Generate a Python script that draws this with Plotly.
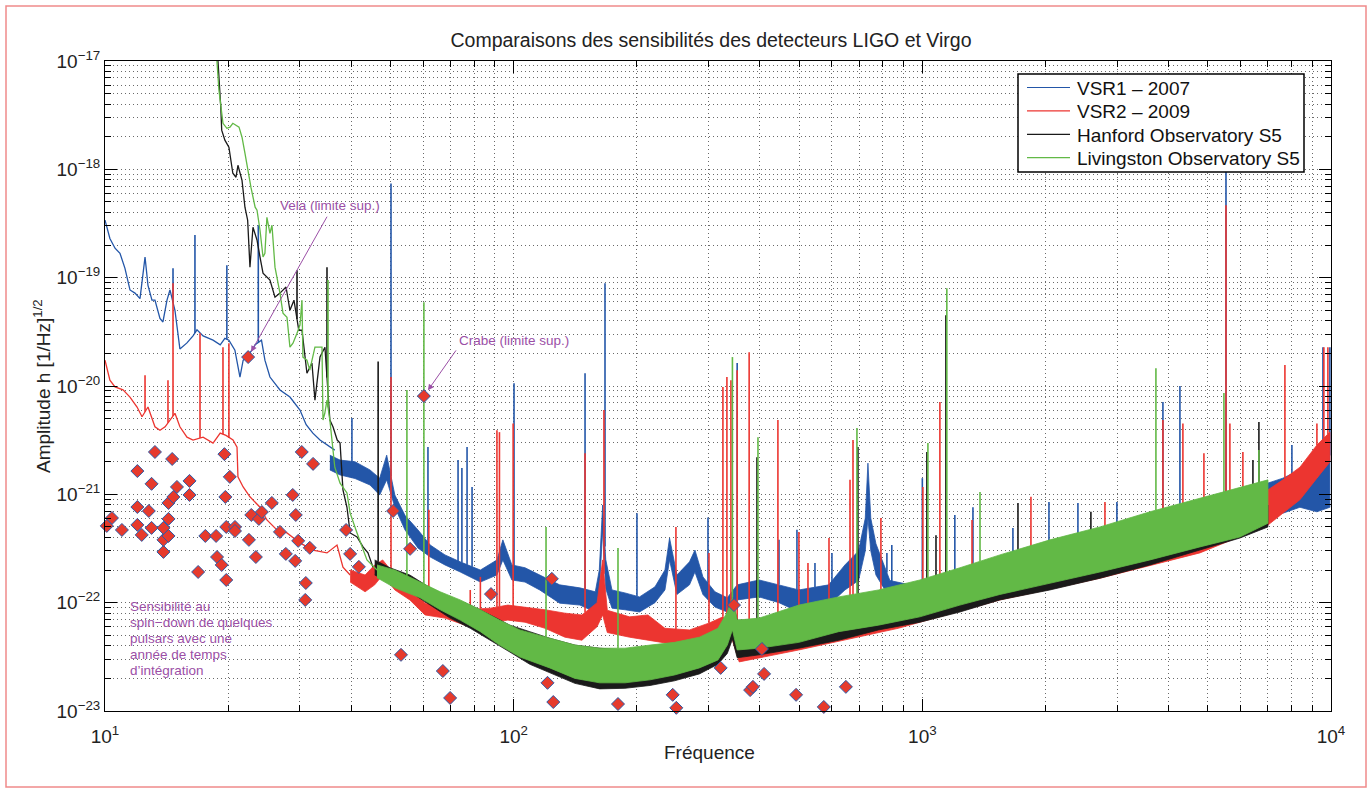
import numpy as np
import plotly.graph_objects as go

# ---------------- data ----------------
# VSR1 - 2007 (blue)
VSR1_LINE_F = [10.0, 10.28, 10.58, 10.88, 11.19, 11.51, 11.84, 12.18, 12.53, 12.74, 13.03, 13.25, 13.63, 13.86, 14.18,
               14.42, 14.83, 15.25, 15.87, 16.42, 16.79, 17.38, 18.38, 19.14, 19.65, 20.10, 20.79, 21.39, 21.78, 22.34,
               22.88, 23.30, 24.15, 24.62, 25.33, 26.80, 28.35, 30.0, 31.06, 32.26, 33.58, 35.5, 36.5]
VSR1_LINE_H = [3.4e-19, 2.3e-19, 1.87e-19, 1.68e-19, 1.22e-19, 7.7e-20, 7.2e-20, 6.4e-20, 1.55e-19, 8.5e-20, 6.2e-20,
               6.2e-20, 4.2e-20, 3.9e-20, 6.2e-20, 7.7e-20, 5.0e-20, 2.2e-20, 2.5e-20, 2.9e-20, 3.3e-20, 2.9e-20,
               2.65e-20, 2.4e-20, 2.75e-20, 2.65e-20, 2.14e-20, 1.21e-20, 1.73e-20, 1.9e-20, 2.14e-20, 2.4e-20,
               2.65e-20, 1.73e-20, 1.21e-20, 9.2e-21, 7.9e-21, 6.0e-21, 4.4e-21, 3.67e-21, 3.17e-21, 2.73e-21, 2.56e-21]
VSR1_BAND_F = [35.5, 37.6, 40.9, 44.5, 47.0, 48.9, 51.2, 54.2, 58.3, 62.5, 67.9, 74.0, 82.9, 91.0, 94.1, 99.0, 106.6,
               115.8, 129.6, 145.2, 158.4, 162.0, 165.1, 168.0, 174.0, 187.2, 203.2, 221.7, 234.5, 240.7, 250.9, 269.3,
               277.7, 290.5, 310.9, 333.3, 352.3, 398.6, 445.9, 498.7, 590.0, 646.6, 698.0, 725.0, 736.0, 748.0, 770.0,
               833.0, 986.0, 1548, 2720, 4777, 7010, 7625, 8393, 9237, 9938]
VSR1_BAND_HI = [2.3e-21, 2.07e-21, 2.0e-21, 1.68e-21, 1.41e-21, 2.3e-21, 9.85e-22, 6.4e-22, 4.7e-22, 3.4e-22, 2.76e-22,
                2.38e-22, 2.0e-22, 2.48e-22, 3.8e-22, 2.23e-22, 2.1e-22, 1.8e-22, 1.46e-22, 1.37e-22, 1.26e-22, 2.0e-22,
                7.97e-22, 2.5e-22, 1.31e-22, 1.23e-22, 1.13e-22, 1.4e-22, 2.0e-22, 3.95e-22, 1.8e-22, 2.38e-22, 3.06e-22,
                1.73e-22, 1.26e-22, 1.11e-22, 1.46e-22, 1.62e-22, 1.46e-22, 1.31e-22, 1.46e-22, 2.23e-22, 3.0e-22,
                6.0e-22, 1.94e-21, 6.0e-22, 3.5e-22, 1.6e-22, 1.4e-22, 2.3e-22, 4.2e-22, 7.5e-22, 1.27e-21, 1.41e-21,
                1.68e-21, 1.41e-21, 2.3e-21]
VSR1_BAND_LO = [1.68e-21, 1.51e-21, 1.4e-21, 1.22e-21, 9.85e-22, 1.36e-21, 7.6e-22, 4.7e-22, 3.2e-22, 2.64e-22, 2.23e-22,
                1.92e-22, 1.55e-22, 1.8e-22, 2.48e-22, 1.62e-22, 1.55e-22, 1.31e-22, 9.9e-23, 9.5e-23, 8.2e-23, 1.25e-22,
                4.7e-22, 1.35e-22, 8.9e-23, 8.6e-23, 8.2e-23, 1.0e-22, 1.31e-22, 2.48e-22, 1.19e-22, 1.46e-22, 1.92e-22,
                1.19e-22, 9.1e-23, 8.2e-23, 1.06e-22, 1.13e-22, 1.0e-22, 8.2e-23, 9.5e-23, 1.31e-22, 1.6e-22, 3.0e-22,
                6.0e-22, 3.0e-22, 1.8e-22, 1.1e-22, 1.0e-22, 1.2e-22, 2.0e-22, 3.4e-22, 8.9e-22, 6.7e-22, 7.6e-22,
                6.9e-22, 7.6e-22]
VSR1_SPIKE_F = [14.67, 16.60, 19.87, 23.72, 40.2, 50.1, 61.7, 73.1, 74.7, 76.9, 79.1, 100.2, 149.5, 167.3, 200.3, 298.9,
                352.3, 445.9, 493.4, 546.1, 600.9, 819, 842, 1000, 1201, 1330, 1666, 2041, 2403, 2993, 3879, 4269,
                5534, 8023, 9556, 9938]
VSR1_SPIKE_H = [1.22e-19, 2.47e-19, 1.3e-19, 3.05e-19, 5.06e-21, 7.4e-19, 2.73e-21, 2.07e-21, 1.75e-21, 2.73e-21,
                1.17e-21, 1.06e-20, 1.31e-20, 8.9e-20, 6.7e-22, 6.1e-22, 1.63e-20, 3.8e-22, 4.7e-22, 2.32e-22, 2.88e-22,
                2.88e-22, 3.4e-22, 1.41e-21, 6.45e-22, 7.6e-22, 4.9e-22, 8.5e-22, 8.3e-22, 8.5e-22, 7.1e-21, 1.0e-20,
                1.09e-18, 2.85e-21, 2.28e-20, 2.28e-20]

# VSR2 - 2009 (red)
VSR2_LINE_F = [10.0, 10.28, 10.58, 11.07, 11.51, 11.98, 12.32, 12.74, 13.25, 13.63, 14.03, 14.42, 14.83, 15.25, 15.87,
               16.42, 17.38, 18.38, 19.14, 19.77, 20.57, 21.04, 21.15, 21.78, 22.63, 23.95, 24.9, 26.35, 27.88, 30.0,
               32.26, 34.93, 36.96, 38.22, 39.8]
VSR2_LINE_H = [1.73e-20, 1.13e-20, 9.8e-21, 9.2e-21, 7.9e-21, 6.4e-21, 5.2e-21, 6.4e-21, 4.2e-21, 3.9e-21, 4.2e-21,
               4.85e-21, 5.6e-21, 4.2e-21, 3.37e-21, 3.17e-21, 3.37e-21, 2.97e-21, 3.67e-21, 3.5e-21, 3.17e-21, 2.73e-21,
               1.45e-21, 1.17e-21, 9.5e-22, 7.6e-22, 5.8e-22, 4.7e-22, 4.4e-22, 3.56e-22, 3.06e-22, 2.88e-22, 3.4e-22,
               2.13e-22, 1.8e-22]
VSR2_BAND_F = [39.8, 43.3, 45.7, 47.8, 51.2, 55.7, 60.7, 67.9, 76.0, 87.7, 96.8, 106.6, 119.3, 133.5, 146.9, 160.0,
               165.1, 169.5, 192.1, 213.1, 234.5, 269.3, 301.2, 325.1, 343.0, 356.3, 498.7, 873.0, 1548, 2720, 4777,
               7010, 7625, 8393, 9237, 9938]
VSR2_BAND_HI = [2.0e-22, 1.8e-22, 2.23e-22, 2.48e-22, 1.8e-22, 1.37e-22, 9.9e-23, 9.5e-23, 8.6e-23, 8.9e-23, 9.5e-23,
                9.1e-23, 8.6e-23, 8.0e-23, 7.7e-23, 1.0e-22, 2.48e-22, 8.5e-23, 7.4e-23, 7.7e-23, 5.8e-23, 5.6e-23,
                6.5e-23, 7.4e-23, 6.2e-23, 5.6e-23, 6.9e-23, 1.06e-22, 1.62e-22, 2.58e-22, 4.2e-22, 1.1e-21, 1.36e-21,
                1.78e-21, 2.85e-21, 3.76e-21]
VSR2_BAND_LO = [1.55e-22, 1.26e-22, 1.46e-22, 1.8e-22, 1.31e-22, 1.06e-22, 7.7e-23, 7.2e-23, 6.2e-23, 6.5e-23, 6.9e-23,
                6.6e-23, 5.8e-23, 4.8e-23, 4.5e-23, 6.0e-23, 7.7e-23, 5.3e-23, 4.8e-23, 4.5e-23, 4.25e-23, 4.06e-23,
                4.5e-23, 5.4e-23, 4.5e-23, 2.84e-23, 3.66e-23, 5.8e-23, 1.06e-22, 1.68e-22, 2.88e-22, 5.2e-22, 6.7e-22,
                8.9e-22, 1.41e-21, 1.99e-21]
VSR2_SPIKE_F = [12.53, 14.26, 14.67, 17.08, 19.44, 20.10, 50.1, 62.0, 78.3, 82.9, 91.0, 92.3, 99.7, 149.5, 166.3,
                249.5, 300.6, 325.1, 332.5, 340.1, 352.3, 376.9, 443.2, 498.9, 525, 591, 665.3, 676.6, 791.9, 1003,
                1104, 1323, 1844, 2798, 3879, 4341, 4887, 5534, 5657, 6087, 7713, 9237, 9607, 9827]
VSR2_SPIKE_H = [1.26e-20, 1.13e-20, 8.9e-20, 3.07e-20, 2.28e-20, 2.48e-20, 1.21e-20, 7.2e-22, 1.31e-22, 1.73e-22,
                3.9e-21, 3.75e-21, 4.5e-21, 2.4e-21, 6.0e-21, 5.0e-22, 2.88e-22, 9.8e-21, 1.21e-20, 1.13e-20, 1.4e-20,
                2.05e-20, 4.85e-21, 4.5e-22, 2.32e-22, 3.95e-22, 1.36e-21, 3.17e-21, 6.05e-22, 1.17e-21, 7.1e-21,
                5.8e-22, 9.5e-22, 8.5e-22, 4.85e-21, 4.5e-21, 2.4e-21, 4.66e-19, 4.5e-21, 2.46e-21, 1.56e-20, 4.5e-21,
                2.28e-20, 2.28e-20]

# Hanford Observatory S5 (black)
H1_LINE_F = [18.9, 19.0, 19.2, 19.3, 19.65, 20.1, 20.55, 20.92, 21.15, 21.64, 22.0, 22.34, 22.63, 23.02, 23.55, 23.95,
             24.36, 25.33, 26.06, 26.8, 27.73, 28.35, 29.0, 29.8, 30.34, 31.2, 32.09, 32.64, 33.58, 34.53, 35.5, 36.13,
             37.0, 37.6, 38.22, 39.09, 39.8, 41.37, 42.8, 44.0, 45.25]
H1_LINE_H = [1.0e-17, 7.7e-18, 3.74e-18, 2.3e-18, 1.86e-18, 1.6e-18, 9.2e-19, 8.45e-19, 1.09e-18, 7.9e-19, 4.47e-19,
             3.39e-19, 1.25e-19, 2.92e-19, 2.22e-19, 1.55e-19, 1.1e-19, 9.5e-20, 6.6e-20, 7.2e-20, 8.2e-20, 5.0e-20,
             6.2e-20, 3.27e-20, 3.27e-20, 1.31e-20, 1.63e-20, 7.4e-21, 1.85e-20, 2.28e-20, 4.85e-21, 4.2e-21, 3.17e-21,
             2.97e-21, 1.1e-21, 7.6e-22, 4.4e-22, 4.04e-22, 3.27e-22, 2.88e-22, 2.13e-22]
H1_BAND_F = [45.7, 49.8, 55.7, 62.5, 69.9, 78.3, 87.7, 97.9, 109.5, 122.5, 141.2, 162.4, 187.2, 215.6, 247.5, 284.8,
             316.2, 333.3, 343.0, 352.3, 398.6, 498.7, 624.0, 780.7, 986.0, 1236, 1548, 2052, 2720, 3605, 4777, 5986,
             7010]
H1_BAND_HI = [2.48e-22, 2.1e-22, 1.8e-22, 1.37e-22, 1.11e-22, 9.5e-23, 7.7e-23, 6.2e-23, 5.4e-23, 4.7e-23, 4.06e-23,
              3.8e-23, 3.66e-23, 3.8e-23, 4.06e-23, 4.5e-23, 5.25e-23, 7.4e-23, 1.06e-22, 6.9e-23, 6.9e-23, 8.2e-23,
              9.9e-23, 1.13e-22, 1.31e-22, 1.62e-22, 1.92e-22, 2.48e-22, 3.2e-22, 4.04e-22, 5.2e-22, 6.4e-22, 7.97e-22]
H1_BAND_LO = [1.8e-22, 1.55e-22, 1.26e-22, 9.5e-23, 7.2e-23, 5.8e-23, 4.5e-23, 3.5e-23, 2.7e-23, 2.25e-23, 1.8e-23,
              1.6e-23, 1.62e-23, 1.72e-23, 1.9e-23, 2.2e-23, 2.7e-23, 3.4e-23, 4.6e-23, 3.1e-23, 3.3e-23, 3.8e-23,
              4.5e-23, 5.6e-23, 6.6e-23, 8.2e-23, 1.06e-22, 1.31e-22, 1.68e-22, 2.23e-22, 3.06e-22, 3.95e-22, 5.0e-22]
H1_SPIKE_F = [29.5, 34.93, 46.6, 393.9, 695.8, 1026, 1080, 1142, 1714, 2585, 6441, 6662]
H1_SPIKE_H = [1.17e-19, 1.25e-19, 1.68e-20, 2.2e-21, 2.73e-21, 2.46e-21, 4.2e-22, 4.5e-20, 8.3e-22, 6.9e-22, 2.07e-21,
              4.65e-21]

# Livingston Observatory S5 (green)
L1_LINE_F = [18.79, 19.0, 19.44, 19.87, 20.22, 20.55, 21.28, 21.64, 22.0, 22.34, 22.76, 23.3, 23.55, 23.95, 24.36,
             24.62, 24.9, 25.33, 25.62, 26.06, 26.8, 27.26, 27.88, 28.35, 28.84, 29.5, 30.0, 30.34, 30.5, 31.2, 31.7,
             32.64, 33.58, 33.96, 34.15, 34.5, 34.93, 35.5, 36.5, 37.6, 39.09, 39.8, 41.37, 43.75, 46.3]
L1_LINE_H = [1.0e-17, 5.4e-18, 2.66e-18, 2.39e-18, 2.45e-18, 2.66e-18, 2.45e-18, 1.98e-18, 1.41e-18, 9.8e-19, 6.8e-19,
             4.47e-19, 4.2e-19, 2.74e-19, 1.55e-19, 1.68e-19, 3.6e-19, 2.57e-19, 3.05e-19, 1.25e-19, 7.2e-20, 4.7e-20,
             4.3e-20, 2.28e-20, 2.48e-20, 3.07e-20, 3.65e-20, 6.2e-20, 1.85e-20, 1.73e-20, 1.4e-20, 2.28e-20, 2.28e-20,
             2.28e-20, 4.85e-21, 5.6e-21, 7.4e-21, 4.85e-21, 1.78e-21, 1.27e-21, 1.03e-21, 6.7e-22, 4.4e-22, 2.48e-22,
             2.0e-22]
L1_BAND_F = [46.3, 51.2, 59.0, 66.1, 74.0, 82.9, 92.3, 103.6, 122.5, 141.2, 162.4, 187.2, 215.6, 247.5, 284.8, 316.2,
             333.3, 343.0, 352.3, 398.6, 498.7, 624.0, 780.7, 986.0, 1236, 1548, 2052, 2720, 3605, 4777, 5986, 7010]
L1_BAND_HI = [2.23e-22, 2.0e-22, 1.55e-22, 1.26e-22, 1.06e-22, 8.6e-23, 6.9e-23, 5.6e-23, 4.7e-23, 4.06e-23, 3.8e-23,
              3.8e-23, 4.06e-23, 4.3e-23, 4.8e-23, 5.8e-23, 8.2e-23, 1.11e-22, 6.9e-23, 7.2e-23, 9.5e-23, 1.13e-22,
              1.31e-22, 1.62e-22, 2.1e-22, 2.76e-22, 3.8e-22, 5.0e-22, 6.9e-22, 9.2e-22, 1.14e-21, 1.36e-21]
L1_BAND_LO = [1.7e-22, 1.37e-22, 1.11e-22, 8.6e-23, 6.9e-23, 5.4e-23, 4.06e-23, 3.15e-23, 2.5e-23, 2.0e-23, 1.82e-23,
              1.82e-23, 1.94e-23, 2.15e-23, 2.5e-23, 2.96e-23, 4.06e-23, 5.6e-23, 3.66e-23, 3.8e-23, 4.3e-23, 5.4e-23,
              6.2e-23, 7.4e-23, 9.5e-23, 1.19e-22, 1.52e-22, 1.92e-22, 2.48e-22, 3.27e-22, 4.04e-22, 5.4e-22]
L1_SPIKE_F = [35.13, 54.8, 60.3, 120.0, 180.0, 343.0, 396.1, 691.8, 1032, 1148, 1384, 3729, 5470, 6662]
L1_SPIKE_H = [9.5e-20, 9.2e-21, 5.94e-20, 5.0e-22, 3.2e-22, 1.85e-20, 3.37e-21, 4.1e-21, 2.97e-21, 8.0e-20, 1.05e-21,
              1.46e-20, 8.6e-21, 2.56e-21]

# pulsar spin-down limits (diamonds)
PULSAR_F = [10.4, 10.1, 11.0, 12.0, 12.0, 12.0, 12.3, 12.8, 13.0, 13.0, 13.25, 13.9, 13.9, 13.9, 14.3, 14.3, 14.3, 14.6,
            14.7, 15.0, 16.1, 16.1, 16.9, 17.6, 18.7, 18.8, 19.3, 19.6, 19.7, 19.8, 19.8, 20.2, 20.8, 20.8, 22.4, 22.5,
            22.8, 23.4, 23.8, 24.2, 25.6, 26.8, 27.7, 28.8, 29.3, 29.2, 29.7, 30.3, 31.7, 32.3, 31.0, 30.9, 38.9, 39.8,
            41.8, 50.7, 55.8, 60.3, 53.0, 67.1, 69.9, 88.0, 124, 121, 125, 180, 245, 250, 321, 346, 405, 410, 379, 385,
            491, 574, 650]
PULSAR_H = [6.05e-22, 5.11e-22, 4.69e-22, 1.64e-21, 7.64e-22, 5.22e-22, 4.22e-22, 7.02e-22, 1.25e-21, 4.9e-22, 2.46e-21,
            2.94e-22, 3.8e-22, 4.9e-22, 5.93e-22, 4.13e-22, 8.33e-22, 2.12e-21, 9.46e-22, 1.17e-21, 9.87e-22, 1.33e-21,
            1.92e-22, 4.13e-22, 4.13e-22, 2.64e-22, 2.23e-22, 2.35e-21, 9.46e-22, 5.0e-22, 1.62e-22, 1.45e-21, 5.0e-22,
            4.59e-22, 1.85e-20, 3.8e-22, 6.45e-22, 2.64e-22, 5.93e-22, 6.87e-22, 8.33e-22, 4.5e-22, 2.82e-22, 9.87e-22,
            6.45e-22, 2.43e-22, 3.72e-22, 2.46e-21, 3.21e-22, 1.91e-21, 1.52e-22, 1.06e-22, 4.69e-22, 2.82e-22, 2.14e-22,
            7.02e-22, 3.14e-22, 8.07e-21, 3.3e-23, 2.34e-23, 1.32e-23, 1.2e-22, 1.66e-22, 1.82e-23, 1.21e-23, 1.16e-23,
            1.41e-23, 1.07e-23, 2.5e-23, 9.5e-23, 3.74e-23, 2.2e-23, 1.56e-23, 1.67e-23, 1.41e-23, 1.09e-23, 1.67e-23]

VELA = (22.4, 1.85e-20)
CRAB = (60.3, 8.07e-21)

X_TICKS = [1e1, 1e2, 1e3, 1e4]
X_TICKTEXT = ["10<sup>1</sup>", "10<sup>2</sup>", "10<sup>3</sup>", "10<sup>4</sup>"]
Y_TICKS = [1e-23, 1e-22, 1e-21, 1e-20, 1e-19, 1e-18, 1e-17]
Y_TICKTEXT = ["10<sup>\u221223</sup>", "10<sup>\u221222</sup>", "10<sup>\u221221</sup>", "10<sup>\u221220</sup>",
              "10<sup>\u221219</sup>", "10<sup>\u221218</sup>", "10<sup>\u221217</sup>"]

# ---------------- styling ----------------
BLUE = "#2356a8"
RED = "#ec3530"
BLACK = "#1a1a1a"
GREEN = "#62b946"
PURPLE = "#9b4fa6"
FONT = "Liberation Sans, Arial, Helvetica, sans-serif"

fig = go.Figure()


def base_at(freqs, lf, lh, bf, bh):
    f = np.array(lf + bf, dtype=float)
    h = np.array(lh + bh, dtype=float)
    o = np.argsort(f)
    return 10 ** np.interp(np.log10(freqs), np.log10(f[o]), np.log10(h[o]))


series = [
    ("VSR1 \u2013 2007", BLUE, VSR1_LINE_F, VSR1_LINE_H, VSR1_BAND_F, VSR1_BAND_HI, VSR1_BAND_LO, VSR1_SPIKE_F, VSR1_SPIKE_H),
    ("VSR2 \u2013 2009", RED, VSR2_LINE_F, VSR2_LINE_H, VSR2_BAND_F, VSR2_BAND_HI, VSR2_BAND_LO, VSR2_SPIKE_F, VSR2_SPIKE_H),
    ("Hanford Observatory S5", BLACK, H1_LINE_F, H1_LINE_H, H1_BAND_F, H1_BAND_HI, H1_BAND_LO, H1_SPIKE_F, H1_SPIKE_H),
    ("Livingston Observatory S5", GREEN, L1_LINE_F, L1_LINE_H, L1_BAND_F, L1_BAND_HI, L1_BAND_LO, L1_SPIKE_F, L1_SPIKE_H),
]

for name, col, lf, lh, bf, bhi, blo, sf, sh in series:
    fig.add_trace(go.Scatter(x=lf, y=lh, mode="lines", name=name, line=dict(color=col, width=1.3),
                             showlegend=False, hoverinfo="skip"))
    fig.add_trace(go.Scatter(x=bf + bf[::-1], y=bhi + blo[::-1], mode="lines", fill="toself", fillcolor=col,
                             line=dict(color=col, width=0.8), showlegend=False, hoverinfo="skip"))
    bases = base_at(sf, lf, lh, bf, bhi)
    xs, ys = [], []
    for f, h, b in zip(sf, sh, bases):
        xs += [f, f, None]
        ys += [b, h, None]
    fig.add_trace(go.Scatter(x=xs, y=ys, mode="lines", line=dict(color=col, width=1.6), showlegend=False,
                             hoverinfo="skip"))

fig.add_trace(go.Scatter(x=PULSAR_F, y=PULSAR_H, mode="markers", showlegend=False, cliponaxis=False,
                         marker=dict(symbol="diamond", size=10, color="#e63a2c", line=dict(color="#2c5aa8", width=1))))

# ---------------- layout ----------------
minor_x = [m * 10 ** d for d in range(1, 4) for m in range(2, 10)]
minor_y = [m * 10.0 ** d for d in range(-23, -17) for m in range(2, 10)]
GRID = dict(showgrid=True, gridcolor="#6a6a6a", griddash="1px,3px", gridwidth=1)

fig.update_xaxes(type="log", range=[1, 4], tickmode="array", tickvals=X_TICKS, ticktext=X_TICKTEXT,
                 ticks="inside", ticklen=12, tickwidth=1, tickcolor="black", showline=True, linecolor="black",
                 linewidth=1, mirror="ticks", zeroline=False, tickfont=dict(size=19, color="#222", family=FONT),
                 ticklabelstandoff=8,
                 minor=dict(tickmode="array", tickvals=minor_x, ticks="inside", ticklen=6, tickcolor="black", **GRID),
                 **GRID)
fig.update_yaxes(type="log", range=[-23, -17], tickmode="array", tickvals=Y_TICKS, ticktext=Y_TICKTEXT,
                 ticks="inside", ticklen=12, tickwidth=1, tickcolor="black", showline=True, linecolor="black",
                 linewidth=1, mirror="ticks", zeroline=False, tickfont=dict(size=19, color="#222", family=FONT),
                 minor=dict(tickmode="array", tickvals=minor_y, ticks="inside", ticklen=6, tickcolor="black", **GRID),
                 **GRID)

L, R, T, B = 105, 38, 61, 79
W, H = 1369, 790
PW, PH = W - L - R, H - T - B


def px(xp):
    return (xp - L) / PW


def py(yp):
    return (H - B - yp) / PH


annotations = [
    dict(text="Fr\u00e9quence", xref="paper", yref="paper", x=px(709), y=py(753), showarrow=False,
         font=dict(size=19, color="#222", family=FONT), xanchor="center", yanchor="middle"),
    dict(text="Amplitude h [1/Hz]<sup>1/2</sup>", xref="paper", yref="paper", x=px(42), y=py(386), showarrow=False,
         textangle=-90, font=dict(size=19, color="#222", family=FONT), xanchor="center", yanchor="middle"),
    dict(text="Vela (limite sup.)", xref="x", yref="y", x=np.log10(35.5), y=np.log10(4.67e-19), showarrow=False,
         font=dict(size=13.5, color=PURPLE, family=FONT)),
    dict(text="", xref="x", yref="y", x=np.log10(VELA[0]), y=np.log10(VELA[1]), axref="x", ayref="y",
         ax=np.log10(35.1), ay=np.log10(3.77e-19), showarrow=True, arrowhead=2, arrowsize=1.2, arrowwidth=1,
         arrowcolor=PURPLE, standoff=6),
    dict(text="Crabe (limite sup.)", xref="x", yref="y", x=np.log10(100.2), y=np.log10(2.65e-20), showarrow=False,
         font=dict(size=13.5, color=PURPLE, family=FONT)),
    dict(text="", xref="x", yref="y", x=np.log10(CRAB[0]), y=np.log10(CRAB[1]), axref="x", ayref="y",
         ax=np.log10(72.7), ay=np.log10(2.2e-20), showarrow=True, arrowhead=2, arrowsize=1.2, arrowwidth=1,
         arrowcolor=PURPLE, standoff=7),
]
NOTE_LINES = ["Sensibilit\u00e9 au", "spin\u2212down de quelques", "pulsars avec une", "ann\u00e9e de temps",
              "d\u2019int\u00e9gration"]
for i, t in enumerate(NOTE_LINES):
    annotations.append(dict(text=t, xref="paper", yref="paper", x=px(128), y=py(606 + 16 * i), showarrow=False,
                            xanchor="left", yanchor="middle", font=dict(size=13.5, color=PURPLE, family=FONT)))

# legend box drawn as shapes + text so its geometry matches the reference
shapes = [dict(type="rect", xref="paper", yref="paper", x0=px(6), x1=px(1366), y0=py(787), y1=py(6),
               line=dict(color="#f08a8a", width=1.5)),
          dict(type="rect", xref="paper", yref="paper", x0=px(1018), x1=px(1304), y0=py(172), y1=py(74),
               fillcolor="white", line=dict(color="black", width=1.5), layer="above")]
for i, (name, col, *_rest) in enumerate(series):
    yy = 87.5 + 23.4 * i
    shapes.append(dict(type="line", xref="paper", yref="paper", x0=px(1027), x1=px(1070), y0=py(yy), y1=py(yy),
                       line=dict(color=col, width=1.2), layer="above"))
    annotations.append(dict(text=name, xref="paper", yref="paper", x=px(1075), y=py(yy + 1), showarrow=False,
                            xanchor="left", yanchor="middle", font=dict(size=19, color="#111", family=FONT)))

fig.update_layout(
    width=W, height=H, margin=dict(l=L, r=R, t=T, b=B),
    paper_bgcolor="white", plot_bgcolor="white", showlegend=False,
    font=dict(family=FONT, size=19, color="#222"),
    title=dict(text="Comparaisons des sensibilit\u00e9s des detecteurs LIGO et Virgo", xref="container",
               yref="container", x=711 / W, y=1 - 40 / H, xanchor="center", yanchor="middle",
               font=dict(size=19.5, color="#222", family=FONT)),
    annotations=annotations,
    shapes=shapes,
)

fig.write_html("out.html")
